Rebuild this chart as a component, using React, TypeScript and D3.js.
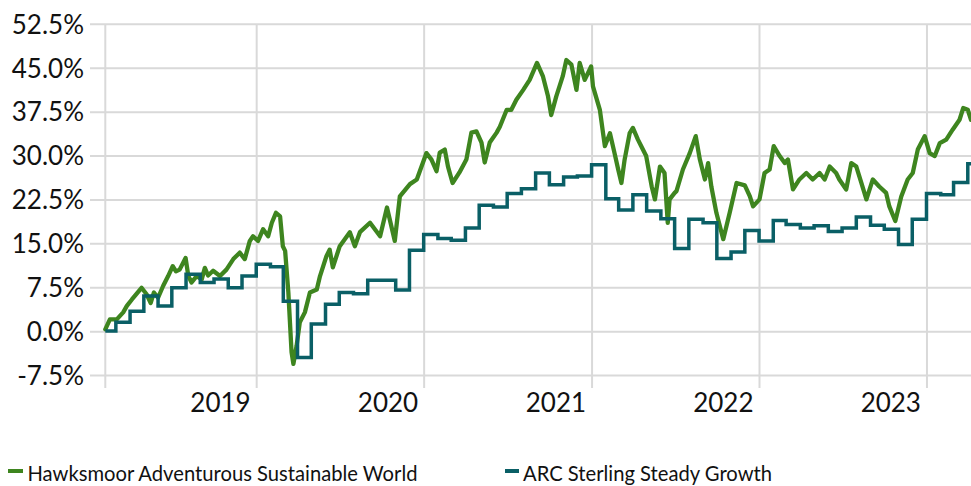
import React from "react";
import * as d3 from "d3";

const W = 971;
const H = 486;

const seriesNames = ["Hawksmoor Adventurous Sustainable World", "ARC Sterling Steady Growth"];
const seriesColors = ["#3e851f", "#0a5f66"];

const yTicks = [-7.5, 0, 7.5, 15, 22.5, 30, 37.5, 45, 52.5];
const yTickLabels = ["-7.5%", "0.0%", "7.5%", "15.0%", "22.5%", "30.0%", "37.5%", "45.0%", "52.5%"];
const xTickDates = ["2019-01-01", "2020-01-01", "2021-01-01", "2022-01-01", "2023-01-01"];
const xTickLabels = ["2019", "2020", "2021", "2022", "2023"];
const xDomain = ["2018-02-05", "2023-04-07"];

const hawksmoorDates = [
  "2018-02-05","2018-02-15","2018-03-02","2018-03-16","2018-03-24","2018-04-04","2018-04-25","2018-05-06","2018-05-15","2018-05-22",
  "2018-05-31","2018-06-11","2018-06-22","2018-07-02","2018-07-09","2018-07-17","2018-07-30","2018-08-05","2018-08-12","2018-08-23",
  "2018-09-03","2018-09-10","2018-09-17","2018-09-28","2018-10-13","2018-10-27","2018-11-11","2018-11-25","2018-12-06","2018-12-17",
  "2018-12-24","2019-01-04","2019-01-15","2019-01-26","2019-02-03","2019-02-12","2019-02-21","2019-02-27","2019-03-04","2019-03-11",
  "2019-03-18","2019-03-22","2019-03-29","2019-04-05","2019-04-16","2019-04-27","2019-05-12","2019-05-19","2019-06-02","2019-06-09",
  "2019-06-16","2019-07-01","2019-07-23","2019-08-03","2019-08-14","2019-09-05","2019-09-27","2019-10-12","2019-10-29","2019-11-09",
  "2019-12-01","2019-12-16","2020-01-06","2020-01-17","2020-01-28","2020-02-04","2020-02-15","2020-02-22","2020-03-03","2020-03-18",
  "2020-04-02","2020-04-13","2020-04-24","2020-05-05","2020-05-12","2020-05-23","2020-06-07","2020-06-14","2020-06-29","2020-07-09",
  "2020-07-20","2020-08-04","2020-08-18","2020-09-03","2020-09-16","2020-09-27","2020-10-04","2020-10-15","2020-10-29","2020-11-06",
  "2020-11-17","2020-11-28","2020-12-05","2020-12-16","2020-12-30","2021-01-03","2021-01-18","2021-01-25","2021-01-29","2021-02-09",
  "2021-02-19","2021-02-27","2021-03-06","2021-03-13","2021-03-24","2021-03-31","2021-04-11","2021-04-18","2021-04-29","2021-05-11",
  "2021-05-18","2021-05-29","2021-06-08","2021-06-15","2021-06-19","2021-06-30","2021-07-04","2021-07-18","2021-08-02","2021-08-15",
  "2021-08-24","2021-09-04","2021-09-11","2021-09-18","2021-09-29","2021-10-14","2021-10-28","2021-11-12","2021-11-30","2021-12-11",
  "2021-12-18","2022-01-01","2022-01-12","2022-01-23","2022-02-01","2022-02-14","2022-02-25","2022-03-04","2022-03-15","2022-03-29",
  "2022-04-13","2022-04-27","2022-05-12","2022-05-23","2022-06-03","2022-06-17","2022-06-24","2022-07-09","2022-07-20","2022-07-31",
  "2022-08-11","2022-08-22","2022-09-05","2022-09-19","2022-10-04","2022-10-11","2022-10-24","2022-11-06","2022-11-20","2022-12-01",
  "2022-12-12","2022-12-27","2023-01-07","2023-01-18","2023-01-29","2023-02-12","2023-02-26","2023-03-13","2023-03-21","2023-03-31",
  "2023-04-07"
];
const hawksmoorValues = [
  0.4, 2.1, 2.1, 3.3, 4.4, 5.5, 7.5, 6.4, 4.9, 6.7,
  5.8, 7.8, 9.5, 11.2, 10.3, 10.6, 12.6, 9.5, 8.4, 9.5,
  8.9, 10.9, 9.6, 10.4, 9.5, 10.6, 12.4, 13.5, 12.4, 15.5,
  16.3, 15.5, 17.5, 16.3, 18.6, 20.3, 19.7, 14.6, 13.8, 6.7,
  -3.5, -5.5, -2.4, 1.6, 3.3, 6.7, 7.2, 9.5, 12.9, 14.0,
  11.0, 14.6, 17.0, 14.6, 17.0, 18.6, 16.3, 21.2, 15.5, 23.1,
  25.2, 26.0, 30.5, 29.4, 27.4, 30.6, 31.1, 28.2, 25.4, 27.2,
  29.4, 34.0, 34.2, 32.3, 28.9, 32.3, 34.0, 35.0, 37.9, 37.9,
  39.6, 41.3, 43.0, 45.9, 43.6, 40.2, 37.0, 40.2, 43.6, 46.4,
  45.6, 41.3, 45.9, 43.0, 45.3, 41.9, 37.9, 33.9, 31.7, 33.9,
  30.5, 27.7, 25.4, 29.4, 33.9, 34.8, 32.8, 31.7, 30.0, 24.8,
  22.6, 28.2, 27.1, 18.6, 22.6, 23.7, 24.0, 27.7, 30.5, 33.4,
  29.4, 26.0, 28.8, 24.8, 20.3, 15.8, 20.3, 25.4, 25.0, 23.1,
  21.4, 22.6, 27.1, 27.7, 31.7, 30.0, 28.8, 29.4, 24.3, 26.0,
  27.1, 26.0, 27.1, 26.0, 28.2, 27.1, 26.0, 24.3, 28.8, 28.2,
  25.4, 22.6, 26.0, 24.8, 23.7, 21.4, 18.9, 23.1, 26.0, 27.1,
  31.1, 33.4, 30.5, 30.0, 32.2, 32.8, 34.5, 36.2, 38.2, 37.9,
  36.2
];

const arcDates = [
  "2018-02-05","2018-02-28","2018-03-31","2018-04-30","2018-05-31","2018-06-30","2018-07-31","2018-08-31","2018-09-30","2018-10-31",
  "2018-11-30","2018-12-31","2019-01-31","2019-02-28","2019-03-31","2019-04-30","2019-05-31","2019-06-30","2019-07-31","2019-08-31",
  "2019-09-30","2019-10-31","2019-11-30","2019-12-31","2020-01-31","2020-02-29","2020-03-31","2020-04-30","2020-05-31","2020-06-30",
  "2020-07-31","2020-08-31","2020-09-30","2020-10-31","2020-11-30","2020-12-31","2021-01-31","2021-02-28","2021-03-31","2021-04-30",
  "2021-05-31","2021-06-30","2021-07-31","2021-08-31","2021-09-30","2021-10-31","2021-11-30","2021-12-31","2022-01-31","2022-02-28",
  "2022-03-31","2022-04-30","2022-05-31","2022-06-30","2022-07-31","2022-08-31","2022-09-30","2022-10-31","2022-11-30","2022-12-31",
  "2023-01-31","2023-02-28","2023-03-31","2023-04-07"
];
const arcValues = [
  0.1, 1.6, 3.5, 6.1, 4.4, 7.5, 9.8, 8.4, 9.0, 7.5,
  9.5, 11.5, 11.1, 5.2, -4.4, 1.3, 4.7, 6.7, 6.5, 8.8,
  8.8, 7.1, 13.9, 16.6, 15.9, 15.6, 17.7, 21.6, 21.3, 23.6,
  24.4, 27.1, 25.1, 26.4, 26.6, 28.5, 22.7, 20.8, 23.4, 20.6,
  19.3, 14.2, 19.2, 18.6, 12.5, 13.6, 17.3, 15.5, 19.0, 18.3,
  17.7, 18.1, 17.1, 17.7, 19.6, 18.2, 17.5, 14.9, 19.2, 23.6,
  23.4, 25.5, 28.7, 28.7
];

const FONT = "Lato, 'DejaVu Sans', sans-serif";

export default function App() {
  const parse = d3.utcParse("%Y-%m-%d");
  const x = d3
    .scaleUtc()
    .domain(xDomain.map((d) => parse(d) as Date))
    .range([105.3, 971]);
  const y = d3.scaleLinear().domain([-7.5, 52.5]).range([375.6, 24.3]);

  const hawk = hawksmoorDates.map((d, i) => ({ t: parse(d) as Date, v: hawksmoorValues[i] }));
  const arc = arcDates.map((d, i) => ({ t: parse(d) as Date, v: arcValues[i] }));

  const hawkLine = d3
    .line<{ t: Date; v: number }>()
    .x((d) => x(d.t))
    .y((d) => y(d.v))
    .curve(d3.curveLinear);
  const arcLine = d3
    .line<{ t: Date; v: number }>()
    .x((d) => x(d.t))
    .y((d) => y(d.v))
    .curve(d3.curveStepAfter);

  const gridColor = "#d9d9d9";
  const vLines = [parse(xDomain[0]) as Date, ...xTickDates.map((d) => parse(d) as Date)];

  return (
    <svg
      width={W}
      height={H}
      style={{ position: "absolute", left: 0, top: 0, background: "#fff" }}
      fontFamily={FONT}
    >
      <rect x={0} y={0} width={W} height={H} fill="#fff" />
      {yTicks.map((t, i) => (
        <g key={"y" + i}>
          <line x1={90} x2={W} y1={y(t)} y2={y(t)} stroke={gridColor} strokeWidth={2} />
          <text x={84} y={y(t)} dy="0.36em" textAnchor="end" fontSize={26} fill="#111">
            {yTickLabels[i]}
          </text>
        </g>
      ))}
      {vLines.map((d, i) => (
        <line
          key={"v" + i}
          x1={x(d)}
          x2={x(d)}
          y1={y(52.5)}
          y2={388}
          stroke={gridColor}
          strokeWidth={2}
        />
      ))}
      {xTickDates.map((d, i) => (
        <text
          key={"x" + i}
          x={x(parse(d) as Date) - 6}
          y={412}
          textAnchor="end"
          fontSize={26}
          fill="#111"
        >
          {xTickLabels[i]}
        </text>
      ))}
      <path
        d={hawkLine(hawk) || ""}
        fill="none"
        stroke={seriesColors[0]}
        strokeWidth={4.3}
        strokeLinejoin="round"
        strokeLinecap="round"
      />
      <path
        d={arcLine(arc) || ""}
        fill="none"
        stroke={seriesColors[1]}
        strokeWidth={3.5}
        strokeLinejoin="miter"
      />
      <g>
        <rect x={8} y={469} width={15} height={4} fill={seriesColors[0]} />
        <text x={27.5} y={481} fontSize={20.2} fill="#111">
          {seriesNames[0]}
        </text>
        <rect x={505} y={469} width={14} height={4} fill={seriesColors[1]} />
        <text x={523} y={481} fontSize={20.2} fill="#111">
          {seriesNames[1]}
        </text>
      </g>
    </svg>
  );
}
